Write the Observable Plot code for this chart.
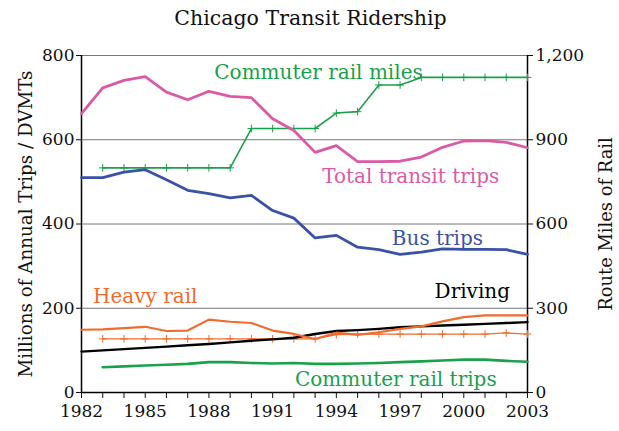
<!DOCTYPE html>
<html>
<head>
<meta charset="utf-8">
<script src="https://cdn.jsdelivr.net/npm/d3@7"></script>
<script src="https://cdn.jsdelivr.net/npm/@observablehq/plot@0.6"></script>
<style>
  html, body { margin: 0; padding: 0; background: #fff; }
  #wrap { width: 619px; }
  #title { height: 36px; line-height: 36px; text-align: center; font-family: "DejaVu Serif", serif; font-size: 20.5px; color: #111; padding-left: 2px; }
</style>
</head>
<body>
<div id="wrap">
  <div id="title">Chicago Transit Ridership</div>
  <div id="chart"></div>
</div>
<script>
const years = [1982,1983,1984,1985,1986,1987,1988,1989,1990,1991,1992,1993,1994,1995,1996,1997,1998,1999,2000,2001,2002,2003];
const totalTransit = [662,723,741,750,713,695,715,703,700,650,622,570,586,548,548,549,559,582,597,598,594,581];
const busTrips = [510,510,523,529,505,480,472,462,468,432,414,367,373,345,339,328,333,341,340,340,339,328];
const heavyRail = [149,150,153,156,146,147,173,168,165,147,139,127,142,137,143,151,157,169,179,183,183,183];
const driving = [97,100,103,106,109,112,115,119,123,126,130,139,146,148,151,155,157,159,161,163,165,167];
const commuterTrips = [null,60,62,64,66,68,72,72,70,69,70,68,68,69,70,72,74,76,78,78,75,73];
// right axis (route miles of rail)
const commuterMiles = [null,800,800,800,800,800,800,800,940,940,940,940,995,1000,1095,1095,1122,1122,1122,1122,1122,1122];
const heavyMiles = [null,191,191,191,191,191,191,191,191,191,191,191,206,208,208,208,208,208,208,208,212,208];
const leftTicks = [0,200,400,600,800];
const rightTicks = [0,300,600,900,1200];
const xLabels = [1982,1985,1988,1991,1994,1997,2000,2003];

const C = {pink:"#DA5AA5", green:"#1BA04B", blue:"#3A52A6", orange:"#F26A2C", black:"#000"};
const R = 800/1200;

function series(arr, scale=1) {
  return years.map((y,i) => ({year:y, v: arr[i] == null ? null : arr[i]*scale})).filter(d => d.v != null);
}

const font = "'DejaVu Serif', serif";
const chart = Plot.plot({
  width: 619, height: 395,
  marginLeft: 81, marginRight: 92, marginTop: 19, marginBottom: 39,
  style: {fontFamily: font, fontSize: "17px", background: "#fff", color: "#111"},
  x: {domain: [1982, 2003]},
  y: {domain: [0, 800]},
  marks: [
    Plot.gridY([200,400,600,800], {stroke: "#777", strokeOpacity: 1, strokeWidth: 1}),
    Plot.ruleX([1982], {stroke: "#000", strokeWidth: 1.5}),
    Plot.ruleX([2003], {stroke: "#000", strokeWidth: 1.5}),
    Plot.ruleY([0], {stroke: "#000", strokeWidth: 1.5}),
    Plot.axisY({anchor: "left", ticks: leftTicks, tickFormat: d => d, tickSize: 5, tickPadding: 2, fontSize: 17,
      label: null}),
    Plot.axisY({anchor: "left", ticks: [], label: "Millions of Annual Trips / DVMTs", labelAnchor: "center", labelArrow: "none", labelOffset: 63, fontSize: 18.3}),
    Plot.axisY({anchor: "right", ticks: rightTicks.map(v => v*R), tickFormat: (d,i) => d3.format(",")(rightTicks[i]), tickSize: 5, tickPadding: 3, fontSize: 17,
      label: null}),
    Plot.axisY({anchor: "right", ticks: [], label: "Route Miles of Rail", labelAnchor: "center", labelArrow: "none", labelOffset: 84, fontSize: 17.9}),
    Plot.axisX({ticks: years, tickFormat: d => xLabels.includes(d) ? String(d) : "", tickSize: 6, tickPadding: 6, label: null, fontSize: 17}),
    Plot.line(series(commuterMiles, R), {x: "year", y: "v", stroke: C.green, strokeWidth: 1.6}),
    Plot.dot(series(commuterMiles, R), {x: "year", y: "v", symbol: "plus", r: 2.6, stroke: C.green, strokeWidth: 1}),
    Plot.line(series(heavyMiles, R), {x: "year", y: "v", stroke: C.orange, strokeWidth: 1.3}),
    Plot.dot(series(heavyMiles, R), {x: "year", y: "v", symbol: "plus", r: 2.6, stroke: C.orange, strokeWidth: 1}),
    Plot.line(series(commuterTrips), {x: "year", y: "v", stroke: C.green, strokeWidth: 2.6}),
    Plot.line(series(driving), {x: "year", y: "v", stroke: C.black, strokeWidth: 2.4}),
    Plot.line(series(heavyRail), {x: "year", y: "v", stroke: C.orange, strokeWidth: 2.2}),
    Plot.line(series(busTrips), {x: "year", y: "v", stroke: C.blue, strokeWidth: 2.8}),
    Plot.line(series(totalTransit), {x: "year", y: "v", stroke: C.pink, strokeWidth: 2.8}),
    Plot.text([{t:"Commuter rail miles", x:1993.16, y:760, c:C.green, w:"normal"},
               {t:"Total transit trips", x:1997.5, y:513, c:C.pink, w:"normal"},
               {t:"Bus trips", x:1998.76, y:366, c:C.blue, w:"normal"},
               {t:"Heavy rail", x:1985.0, y:228, c:C.orange, w:"normal"},
               {t:"Driving", x:2000.4, y:240, c:"#000", w:"bold"},
               {t:"Commuter rail trips", x:1996.8, y:31, c:C.green, w:"normal"}],
      {x: "x", y: "y", text: "t", fill: "c", fontWeight: "w", fontSize: 20, textAnchor: "middle"})
  ]
});
document.getElementById("chart").appendChild(chart);
</script>
</body>
</html>
